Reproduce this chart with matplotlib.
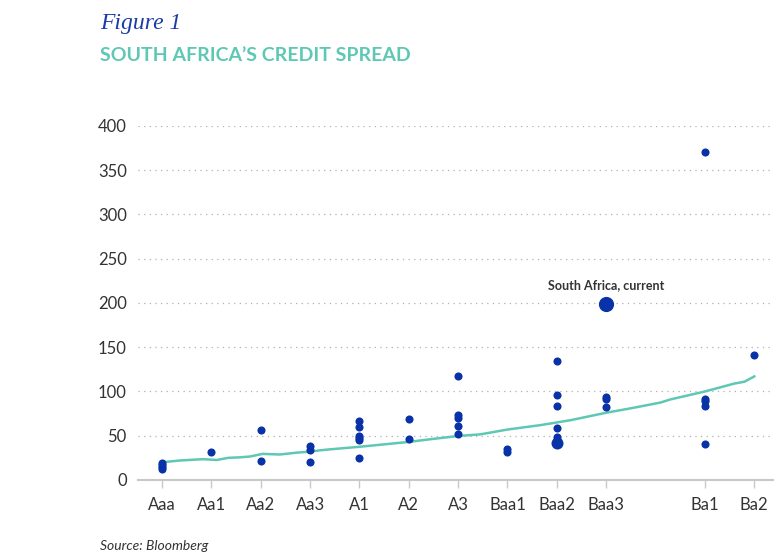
import matplotlib.pyplot as plt
import numpy as np

# rating scale (no Moody's notch drawn between Baa3 and Ba1)
ratings = ['Aaa', 'Aa1', 'Aa2', 'Aa3', 'A1', 'A2', 'A3', 'Baa1', 'Baa2', 'Baa3', 'Ba1', 'Ba2']
rating_pos = [0, 1, 2, 3, 4, 5, 6, 7, 8, 9, 11, 12]

# peer sovereign spreads (bp), by rating
peer_rating = ['Aaa', 'Aaa', 'Aaa', 'Aaa', 'Aa1', 'Aa2', 'Aa2', 'Aa3', 'Aa3', 'Aa3',
               'A1', 'A1', 'A1', 'A1', 'A1', 'A1', 'A2', 'A2',
               'A3', 'A3', 'A3', 'A3', 'A3', 'Baa1', 'Baa1',
               'Baa2', 'Baa2', 'Baa2', 'Baa2', 'Baa2', 'Baa2',
               'Baa3', 'Baa3', 'Baa3', 'Ba1', 'Ba1', 'Ba1', 'Ba1', 'Ba1', 'Ba2']
peer_spread = [19, 17, 15, 12, 32, 57, 21, 38, 34, 20,
               67, 60, 50, 47, 45, 25, 69, 46,
               118, 73, 70, 61, 52, 35, 32,
               135, 96, 84, 59, 49, 45,
               94, 92, 82, 371, 92, 89, 84, 41, 141]

# highlighted (bigger) points
big_rating = ['Baa2']
big_spread = [42]
sa_rating = 'Baa3'
sa_spread = 199

# fitted curve
curve_x = [0, 0.36, 0.67, 0.83, 1.11, 1.34, 1.58, 1.78, 2.04, 2.39, 2.73, 3.0, 3.2, 3.4,
           4.0, 5.0, 5.43, 6.0, 6.44, 6.7, 7.0, 7.67, 8.0, 8.3, 9.0, 9.5, 10.1, 10.3,
           11.0, 11.6, 11.8, 12.0]
curve_y = [20, 22, 23, 23.5, 22.6, 25, 25.6, 26.5, 29.5, 28.8, 30.9, 32, 33.5, 34.6,
           37.5, 43, 46, 49.7, 51.5, 54, 57, 62, 65, 67.8, 76, 81, 87.5, 91,
           100, 109, 111, 117]

pos = dict(zip(ratings, rating_pos))

plt.rcParams['font.family'] = ['Lato', 'DejaVu Sans']

fig = plt.figure(figsize=(7.74, 5.54), dpi=100)
ax = fig.add_axes([0.178, 0.1336, 0.822, 0.639])

blue = '#0a32a8'
teal = '#5ec8b4'

ax.plot(curve_x, curve_y, color=teal, linewidth=1.8, zorder=2)
ax.scatter([pos[r] for r in peer_rating], peer_spread, s=34, color=blue, zorder=3, linewidths=0)
ax.scatter([pos[r] for r in big_rating], big_spread, s=75, color=blue, zorder=3, linewidths=0)
ax.scatter([pos[sa_rating]], [sa_spread], s=120, color=blue, zorder=3, linewidths=0)
ax.text(pos[sa_rating], 214, 'South Africa, current', ha='center', va='bottom',
        fontsize=9, fontweight='bold', color='#333333')

ax.set_xlim(-0.49, 12.4)
ax.set_ylim(0, 400)
ax.set_yticks(np.arange(0, 401, 50))
ax.set_xticks(rating_pos)
ax.set_xticklabels(ratings)
ax.yaxis.grid(True, linestyle=(0, (1, 3.5)), color='#b0b0b0', linewidth=0.9)
ax.set_axisbelow(True)
for s in ['top', 'right', 'left']:
    ax.spines[s].set_visible(False)
ax.spines['bottom'].set_color('#c8c8c8')
ax.spines['bottom'].set_linewidth(1.5)
ax.tick_params(axis='y', length=0, pad=8, labelsize=12, labelcolor='#333333')
ax.tick_params(axis='x', length=6, width=1, color='#c8c8c8', pad=6,
               labelsize=12, labelcolor='#333333')

fig.text(0.129, 0.957, 'Figure 1', fontsize=17, style='italic', color='#1a3aa8',
         family=['Liberation Serif', 'DejaVu Serif'], va='center')
fig.text(0.129, 0.9, 'SOUTH AFRICA\u2019S CREDIT SPREAD', fontsize=14, fontweight='bold',
         color=teal, va='center')
fig.text(0.129, 0.014, 'Source: Bloomberg', fontsize=10, style='italic', color='#333333',
         va='center')

fig.savefig('out.png', dpi=100)
